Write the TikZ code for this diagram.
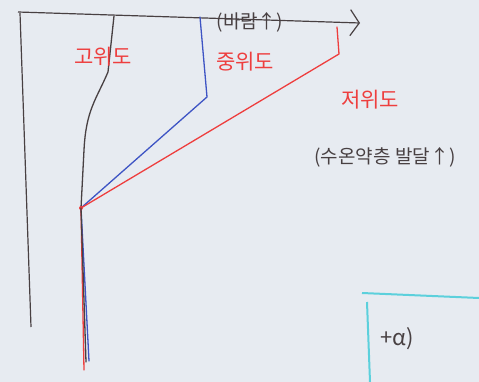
\documentclass[tikz,border=0pt]{standalone}
\usepackage{fontspec}
\newfontfamily\kr{Noto Sans CJK KR}
\usetikzlibrary{arrows.meta}
\definecolor{paper}{RGB}{231,235,241}
\definecolor{pen}{RGB}{72,64,66}
\definecolor{penred}{RGB}{238,62,62}
\definecolor{penblue}{RGB}{62,84,196}
\definecolor{pencyan}{RGB}{92,208,220}
\tikzset{
  lat/.style={font=\kr\fontsize{21}{21}\selectfont,text=penred,inner sep=0pt},
  note/.style={font=\kr\fontsize{19}{19}\selectfont,text=pen,inner sep=0pt},
  prof/.style={line width=1.3pt,line join=round,line cap=round}
}
\begin{document}
\begin{tikzpicture}[x=1pt,y=-1pt]
\fill[paper] (0,0) rectangle (479,382);
\useasboundingbox (0,0) rectangle (479,382);
\clip (0,0) rectangle (479,382);
% axes
\coordinate (o) at (18,12);
\coordinate (xend) at (360,23);
\coordinate (ybot) at (31,327);
\draw[pen,line width=1.2pt,-{Straight Barb[length=9pt,width=26pt]}] (o) -- (xend);
\draw[pen,line width=1.2pt] (20,13) -- (ybot);
% profiles
\coordinate (mix) at (81,208);
\draw[prof,pen] (114,16) -- (108,72) .. controls (96,100) and (86,110) .. (84,150) -- (mix);
\draw[prof,penblue] (200,17) -- (207,97) -- (mix) -- (89,361);
\draw[prof,penred] (337,27) -- (339,54) -- (mix) -- (84,370);
\fill[penred] (mix) circle (2pt);
\draw[prof,pen] (mix) -- (86,362);
% labels
\node[lat] (high) at (103,57) {고위도};
\node[lat] (mid) at (245,62) {중위도};
\node[lat] (low) at (370,100) {저위도};
\node[note] (wind) at (250,22) {(바람↑)};
\node[note] (thermo) at (385,157) {(수온약층 발달↑)};
% cut box
\draw[pencyan,line width=2pt] (362,293) -- (479,298);
\draw[pencyan,line width=2pt] (367,302) -- (370,382);
\node[note,font=\kr\fontsize{22}{22}\selectfont,anchor=west] (extra) at (380,339) {+α)};
\end{tikzpicture}
\end{document}
